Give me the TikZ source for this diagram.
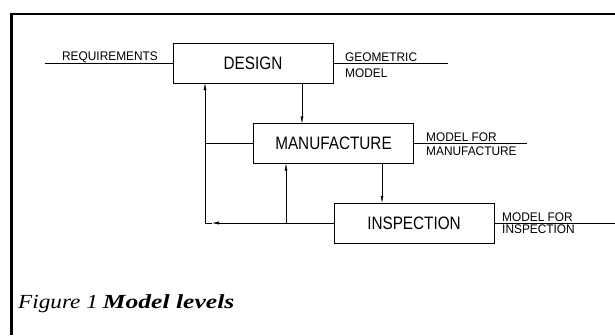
\documentclass[tikz,border=0pt]{standalone}
\usepackage{fontspec}
\setmainfont{Liberation Serif}
\newfontfamily\boxfont[FakeStretch=0.85]{Liberation Sans}
\newfontfamily\labfont[FakeStretch=0.95]{Liberation Sans}
\usetikzlibrary{arrows.meta}

\begin{document}
\begin{tikzpicture}[x=1pt,y=-1pt,
    block/.style={draw, thin, minimum width=160pt, minimum height=40pt, inner sep=0pt,
      font=\boxfont\fontsize{18}{18}\selectfont},
    lab/.style={anchor=base west, inner sep=0pt, font=\labfont\fontsize{12.5}{13}\selectfont},
    tip/.style={-{Latex[length=7pt,width=3pt]}}]

    \useasboundingbox (0,0) rectangle (615,335);

    % 画边框
    \draw[line width=2.5pt] (11.5,335) -- (11.5,14) -- (615,14);

    % 画方框
    \node[block] (design) at (253,63) {DESIGN};
    \node[block] (manuf) at (333.5,143.5) {MANUFACTURE};
    \node[block] (insp) at (414,223) {INSPECTION};

    % 输入输出线
    \coordinate (req) at (45,63);
    \coordinate (geo) at (448,63);
    \coordinate (mfo) at (527,143.5);
    \coordinate (ino) at (615,223);
    \draw[thin] (req) -- (design.west);
    \draw[thin] (design.east) -- (geo);
    \draw[thin] (manuf.east) -- (mfo);
    \draw[thin] (insp.east) -- (ino);

    % 插入文字
    \node[lab, anchor=base] (reqt) at (110,60) {REQUIREMENTS};
    \node[lab] (geot) at (345,61.5) {GEOMETRIC};
    \node[lab] (geob) at (345,77.5) {MODEL};
    \node[lab] (mfot) at (426,141.5) {MODEL FOR};
    \node[lab] (mfob) at (426,155.5) {MANUFACTURE};
    \node[lab] (inot) at (502,221) {MODEL FOR};
    \node[lab] (inob) at (502,233) {INSPECTION};

    % 箭头
    \draw[thin, tip] ([xshift=49pt]design.south) -- ([xshift=49pt]design.south |- manuf.north);
    \draw[thin, tip] ([xshift=48.5pt]manuf.south) -- ([xshift=48.5pt]manuf.south |- insp.north);

    % 反馈线
    \coordinate (fb) at (205,223);
    \coordinate (up) at (286,223);
    \draw[thin, tip] (insp.west) -- ([xshift=7pt]fb);
    \draw[thin, tip] ([xshift=7pt]fb) -- (fb) -- (fb |- design.south);
    \draw[thin] (manuf.west) -- (manuf.west -| fb);
    \draw[thin, tip] (up) -- (up |- manuf.south);

    % 图题
    \node[anchor=base west, inner sep=0pt, font=\fontsize{20}{21}\selectfont] (cap) at (18,308)
      {\scalebox{1.16}[1]{\textit{Figure 1}} \scalebox{1.28}[1]{\textbf{\textit{Model levels}}}};

\end{tikzpicture}
\end{document}
